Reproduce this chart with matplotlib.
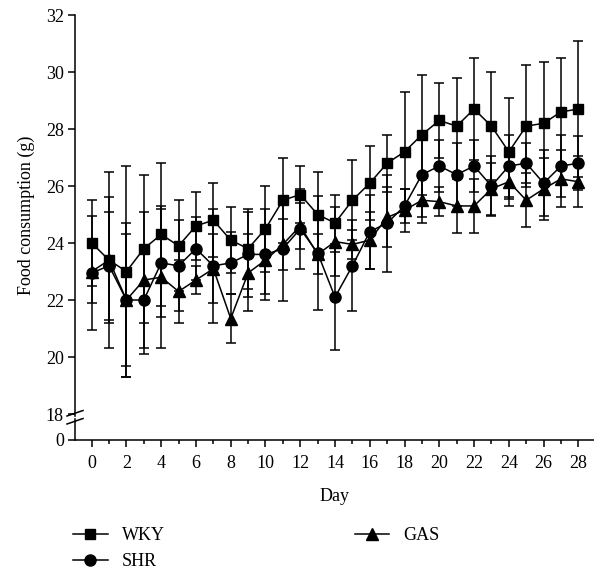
import matplotlib
matplotlib.use('Agg')
import matplotlib.pyplot as plt
from matplotlib.lines import Line2D
import numpy as np

plt.rcParams['font.family'] = ['Liberation Serif', 'DejaVu Serif']

# Data
days = list(range(29))
wky = [24.0, 23.4, 23.0, 23.8, 24.3, 23.9, 24.6, 24.8, 24.1, 23.8, 24.5, 25.5, 25.7, 25.0, 24.7,
       25.5, 26.1, 26.8, 27.2, 27.8, 28.3, 28.1, 28.7, 28.1, 27.2, 28.1, 28.2, 28.6, 28.7]
wky_err = [1.5, 3.1, 3.7, 2.6, 2.5, 1.6, 1.2, 1.3, 1.15, 1.4, 1.5, 1.5, 1.0, 1.5, 1.0,
           1.4, 1.3, 1.0, 2.1, 2.1, 1.3, 1.7, 1.8, 1.9, 1.9, 2.15, 2.15, 1.9, 2.4]
shr = [22.95, 23.2, 22.0, 22.0, 23.3, 23.2, 23.8, 23.2, 23.3, 23.6, 23.6, 23.8, 24.5, 23.65, 22.1,
       23.2, 24.4, 24.7, 25.3, 26.4, 26.7, 26.4, 26.7, 26.0, 26.7, 26.8, 26.1, 26.7, 26.8]
shr_err = [2.0, 1.9, 2.3, 1.9, 1.9, 1.6, 1.1, 2.0, 1.1, 1.5, 1.6, 1.85, 1.4, 2.0, 1.85,
           1.6, 1.3, 1.7, 0.6, 1.5, 0.9, 1.1, 0.9, 1.05, 1.1, 0.7, 1.15, 1.1, 0.95]
gas = [23.0, 23.4, 22.0, 22.7, 22.8, 22.3, 22.7, 23.1, 21.35, 22.95, 23.4, 23.95, 24.6, 23.6, 24.05,
       23.95, 24.1, 24.9, 25.15, 25.5, 25.45, 25.3, 25.3, 25.9, 26.15, 25.5, 25.9, 26.25, 26.15]
gas_err = [1.1, 2.2, 2.7, 2.4, 2.5, 1.1, 0.5, 1.2, 0.85, 1.35, 1.2, 0.9, 0.8, 0.7, 1.2,
           0.5, 1.0, 1.05, 0.75, 0.8, 0.5, 0.95, 0.95, 0.9, 0.6, 0.95, 1.1, 1.0, 0.9]

series = [('WKY', wky, wky_err, 's', 7.5),
          ('SHR', shr, shr_err, 'o', 8),
          ('GAS', gas, gas_err, '^', 8.5)]

W, H = 594, 571
fig = plt.figure(figsize=(W / 100, H / 100), dpi=100)

left, right = 75 / W, 594 / W
ax = fig.add_axes([left, 1 - 416 / H, right - left, (416 - 15) / H])
axb = fig.add_axes([left, 1 - 440 / H, right - left, (440 - 419) / H])

handles = []
for name, vals, err, mk, ms in series:
    ax.errorbar(days, vals, yerr=err, fmt='-', marker=mk, ms=ms, color='black',
                lw=1.1, elinewidth=1.1, capsize=3.5, capthick=1.1, clip_on=False)
    handles.append(Line2D([], [], color='black', marker=mk, ms=ms, lw=1.1, label=name))

xlim = (-0.96, 28.9)
ax.set_xlim(*xlim)
ax.set_ylim(17.93, 32)
ax.set_yticks(np.arange(18, 33, 2))
for s in ['top', 'right', 'bottom']:
    ax.spines[s].set_visible(False)
ax.tick_params(axis='x', which='both', bottom=False, labelbottom=False)
ax.tick_params(axis='y', direction='out', length=5, width=1.1, labelsize=13, pad=3)
ax.spines['left'].set_linewidth(1.1)
ax.set_ylabel('Food consumption (g)', fontsize=13, labelpad=8)

axb.set_xlim(*xlim)
axb.set_ylim(0, 1)
axb.set_yticks([0])
for s in ['top', 'right']:
    axb.spines[s].set_visible(False)
axb.spines['left'].set_linewidth(1.1)
axb.spines['bottom'].set_linewidth(1.1)
axb.set_xticks(range(0, 29, 2))
axb.set_xticks(range(0, 29), minor=True)
axb.tick_params(axis='x', which='major', direction='out', length=5, width=1.1, labelsize=13, pad=6)
axb.tick_params(axis='x', which='minor', direction='out', length=3, width=1.1)
axb.tick_params(axis='y', direction='out', length=5, width=1.1, labelsize=13, pad=3)
axb.set_xlabel('Day', fontsize=13, labelpad=11)
axb.patch.set_visible(False)

# axis break marks
for y0 in (416, 424):
    fig.add_artist(Line2D([67 / W, 83 / W], [1 - y0 / H, 1 - (y0 - 5.5) / H],
                          color='black', lw=1.1, transform=fig.transFigure))

fig.legend(handles=handles, loc='upper left', bbox_to_anchor=(57 / W, 1 - 511 / H),
           ncol=2, frameon=False, fontsize=13, handlelength=1.9, handletextpad=0.8,
           columnspacing=10.5, labelspacing=0.5)

fig.savefig('out.png', dpi=100)
